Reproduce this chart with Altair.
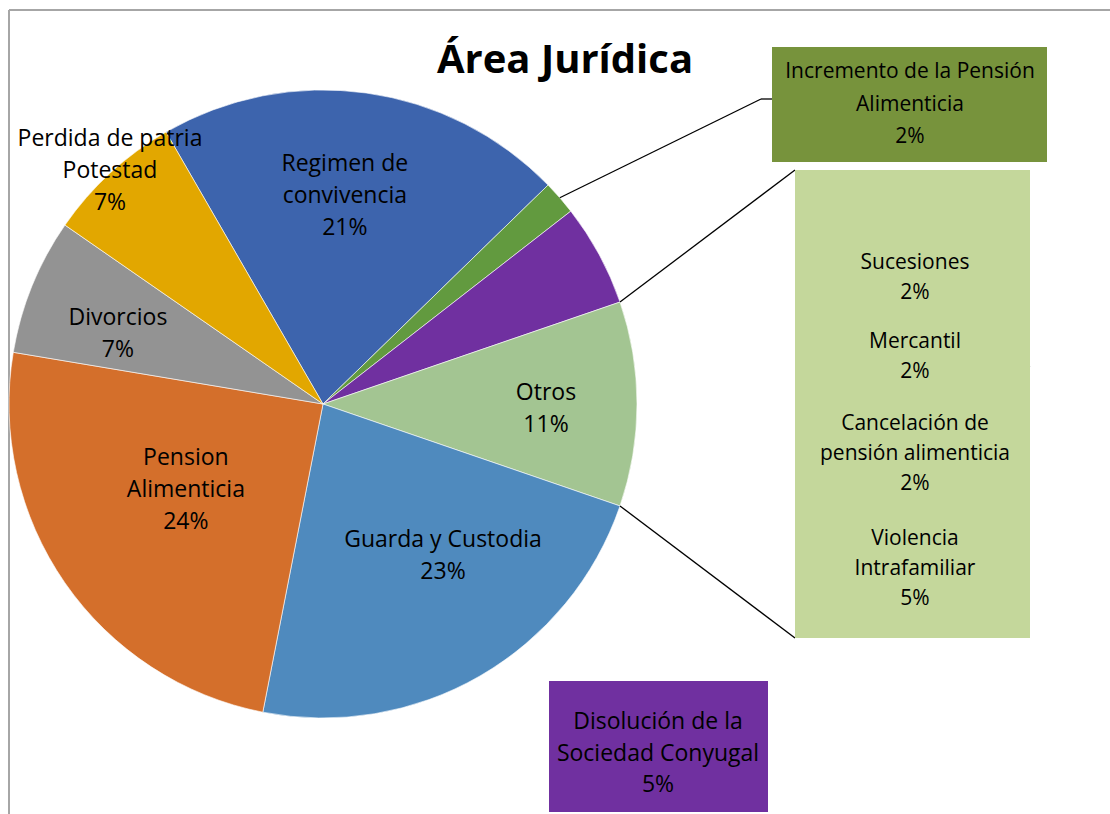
import math
import pandas as pd
import altair as alt

# ---------------- data ----------------
categories = [
    "Regimen de convivencia",
    "Incremento de la Pensión Alimenticia",
    "Disolución de la Sociedad Conyugal",
    "Otros",
    "Guarda y Custodia",
    "Pension Alimenticia",
    "Divorcios",
    "Perdida de patria Potestad",
]
display_names = [
    "Regimen de\nconvivencia",
    "Incremento de la Pensión\nAlimenticia",
    "Disolución de la\nSociedad Conyugal",
    "Otros",
    "Guarda y Custodia",
    "Pension\nAlimenticia",
    "Divorcios",
    "Perdida de patria\nPotestad",
]
counts = [12, 1, 3, 6, 13, 14, 4, 4]
pct_labels = ["21%", "2%", "5%", "11%", "23%", "24%", "7%", "7%"]
slice_colors = ["#3D64AD", "#629A3F", "#7030A0", "#A3C592",
                "#4F8ABE", "#D46F2B", "#939393", "#E2A700"]

otros_names = ["Sucesiones", "Mercantil", "Cancelación de\npensión alimenticia",
               "Violencia\nIntrafamiliar"]
otros_counts = [1, 1, 1, 3]
otros_pct = ["2%", "2%", "2%", "5%"]

TITLE = "Área Jurídica"

# ---------------- layout ----------------
W, H = 1110, 814
CX, CY, R = 323, 404, 314
START = math.radians(330)          # first slice starts 30° left of 12 o'clock
TOTAL = sum(counts)
FONT = "Open Sans"
FS = 23
FS_BOX = 21
LH = 32

theta_scale = alt.Scale(domain=[0, TOTAL], range=[START, START + 2 * math.pi])

df = pd.DataFrame({
    "cat": categories,
    "value": counts,
    "idx": list(range(len(categories))),
    "label": [n + "\n" + p for n, p in zip(display_names, pct_labels)],
})


def polar(cum, r):
    a = START + 2 * math.pi * cum / TOTAL
    return CX + r * math.sin(a), CY - r * math.cos(a)


cum = [sum(counts[:i]) for i in range(len(counts) + 1)]

# ---------------- pie ----------------
pie = alt.Chart(df).mark_arc(outerRadius=R, stroke="white", strokeWidth=0.6).encode(
    theta=alt.Theta("value:Q", stack=True, scale=theta_scale),
    order=alt.Order("idx:Q"),
    color=alt.Color("cat:N", scale=alt.Scale(domain=categories, range=slice_colors), legend=None),
    x=alt.value(CX),
    y=alt.value(CY),
)

# in-pie labels: radius / offsets per slice (layout only; block centre)
label_layout = {
    "Regimen de convivencia": (210, -7, 0),
    "Otros": (223, 0, 5),
    "Guarda y Custodia": (200, 20, -21),
    "Pension Alimenticia": (162, -4, -6),
    "Divorcios": (217, -4, 12),
    "Perdida de patria Potestad": (316, 1, -1),
}

base_lab = (alt.Chart(df)
            .transform_window(cum="sum(value)", sort=[alt.SortField("idx")], frame=[None, 0])
            .transform_calculate(mid="datum.cum - datum.value / 2"))

label_layers = []
for cat, (r, dx, dy) in label_layout.items():
    nlines = df.loc[df["cat"] == cat, "label"].iloc[0].count("\n") + 1
    label_layers.append(
        base_lab.transform_filter(alt.datum.cat == cat)
        .mark_text(radius=r, dx=dx, dy=dy - (nlines - 1) * LH / 2, font=FONT, fontSize=FS,
                   lineBreak="\n", lineHeight=LH, color="black", align="center",
                   baseline="middle")
        .encode(theta=alt.Theta("mid:Q", stack=None, scale=theta_scale),
                text="label:N", x=alt.value(CX), y=alt.value(CY))
    )

# ---------------- annotation boxes ----------------
boxes = pd.DataFrame({
    "x": [772, 795, 549], "x2": [1047, 1030, 768],
    "y": [47, 170, 681], "y2": [162, 638, 812],
    "c": ["#77933C", "#C4D79B", "#7030A0"],
})
box_layer = alt.Chart(boxes).mark_rect().encode(
    x=alt.X("x:Q", scale=None), x2="x2:Q",
    y=alt.Y("y:Q", scale=None), y2="y2:Q",
    color=alt.Color("c:N", scale=None),
)

# leader / connector lines
p_inc = polar((cum[1] + cum[2]) / 2, R)
p_top = polar(cum[3], R)
p_bot = polar(cum[4], R)
lines = pd.DataFrame({
    "x": [p_inc[0], 761, p_top[0], p_bot[0], 945],
    "y": [p_inc[1], 99, p_top[1], p_bot[1], 403],
    "x2": [761, 772, 795, 795, 1030],
    "y2": [99, 99, 170, 638, 366],
})
line_layer = alt.Chart(lines).mark_rule(color="black", strokeWidth=1.3).encode(
    x=alt.X("x:Q", scale=None), y=alt.Y("y:Q", scale=None),
    x2="x2:Q", y2="y2:Q",
)

# frame (top and left edges visible)
frame = pd.DataFrame({"x": [9, 9], "y": [10, 10], "x2": [W, 9], "y2": [10, H]})
frame_layer = alt.Chart(frame).mark_rule(color="#A6A6A6", strokeWidth=2).encode(
    x=alt.X("x:Q", scale=None), y=alt.Y("y:Q", scale=None),
    x2="x2:Q", y2="y2:Q",
)

# outside labels (y = first line)
inc_txt = alt.Chart(pd.DataFrame({"t": [display_names[1] + "\n" + pct_labels[1]]})).mark_text(
    font=FONT, fontSize=FS_BOX, lineBreak="\n", lineHeight=32.5, color="black"
).encode(x=alt.value(910), y=alt.value(72), text="t:N")

dis_txt = alt.Chart(pd.DataFrame({"t": [display_names[2] + "\n" + pct_labels[2]]})).mark_text(
    font=FONT, fontSize=FS, lineBreak="\n", lineHeight=31.5, color="black"
).encode(x=alt.value(658), y=alt.value(722), text="t:N")

otros_txt = pd.DataFrame({
    "t": [n + "\n" + p for n, p in zip(otros_names, otros_pct)],
    "x": [915, 915, 915, 915],
    "y": [263, 342, 424, 539],
})
otros_layer = alt.Chart(otros_txt).mark_text(
    font=FONT, fontSize=FS_BOX, lineBreak="\n", lineHeight=30, color="black"
).encode(x=alt.X("x:Q", scale=None), y=alt.Y("y:Q", scale=None), text="t:N")

title_layer = alt.Chart(pd.DataFrame({"t": [TITLE]})).mark_text(
    font=FONT, fontSize=40, fontWeight="bold", color="black"
).encode(x=alt.value(565), y=alt.value(61), text="t:N")

chart = alt.layer(
    frame_layer, pie, line_layer, box_layer, *label_layers, inc_txt, dis_txt, otros_layer,
    title_layer
).resolve_scale(theta="independent").properties(
    width=W, height=H, padding=0, autosize="none", background="white"
).configure_view(stroke=None)

chart.save("out.html", embed_options={"renderer": "svg", "actions": False})
